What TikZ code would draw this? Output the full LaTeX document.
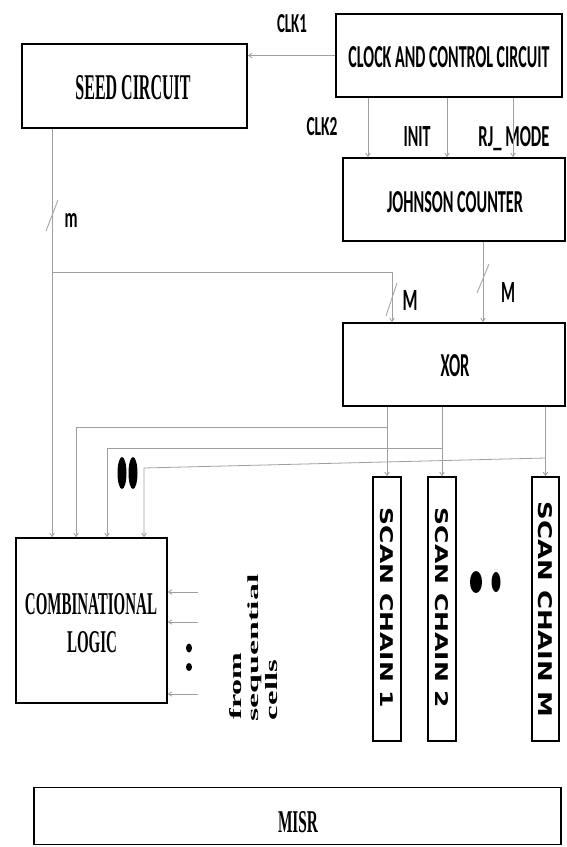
\documentclass[tikz,border=0pt]{standalone}
\usepackage{fontspec}
\usepackage{graphicx}
\setmainfont{Liberation Serif}
\newfontfamily\calfont{Carlito}
\newfontfamily\dvfont{DejaVu Sans}
\usetikzlibrary{arrows.meta}
\newcommand{\rsz}[3]{\resizebox{#1pt}{#2pt}{#3}}
\begin{document}
\begin{tikzpicture}[x=1pt,y=-1pt,
  blk/.style={draw=black, line width=1.5pt, inner sep=0pt},
  conn/.style={draw=gray!75, line width=0.8pt},
  arr/.style={conn, -{Straight Barb[length=3.5pt,width=4.5pt]}},
  lbl/.style={inner sep=0pt, text=black},
  slashln/.style={draw=gray!70, line width=0.9pt}]
\useasboundingbox (0,0) rectangle (567,847);

% blocks
\node[blk, minimum width=226pt, minimum height=83pt] (clock) at (449,55.5) {};
\node[blk, minimum width=225pt, minimum height=84pt] (seed) at (134.5,86) {};
\node[blk, minimum width=222pt, minimum height=83pt] (john) at (454,199.5) {};
\node[blk, minimum width=222pt, minimum height=83pt] (xor) at (454,364.5) {};
\node[blk, minimum width=151pt, minimum height=165pt] (comb) at (91.5,620.5) {};
\node[blk, minimum width=28pt, minimum height=264pt] (ch1) at (387,609) {};
\node[blk, minimum width=28pt, minimum height=264pt] (ch2) at (442,609) {};
\node[blk, minimum width=27pt, minimum height=264pt] (chM) at (545.5,609) {};
\node[blk, minimum width=527pt, minimum height=57pt] (misr) at (297.5,816) {};

% block texts
\node[lbl] (tclock) at (449,57) {\rsz{201}{21}{\calfont\bfseries CLOCK AND CONTROL CIRCUIT}};
\node[lbl] (tseed) at (133,88) {\rsz{115}{24}{\bfseries SEED CIRCUIT}};
\node[lbl] (tjohn) at (455,202) {\rsz{136}{21}{\calfont\bfseries JOHNSON COUNTER}};
\node[lbl] (txor) at (455,366) {\rsz{29}{22}{\calfont\bfseries XOR}};
\node[lbl] (tcomb1) at (91,604.5) {\rsz{132}{21}{\bfseries COMBINATIONAL}};
\node[lbl] (tcomb2) at (92,642.5) {\rsz{50}{21}{\bfseries LOGIC}};
\node[lbl] (tmisr) at (298,822.5) {\rsz{40}{21}{\bfseries MISR}};
\node[lbl, rotate=-90] (tch1) at (387,608) {\rsz{200}{13}{\dvfont\bfseries SCAN CHAIN 1}};
\node[lbl, rotate=-90] (tch2) at (442,608) {\rsz{200}{13}{\dvfont\bfseries SCAN CHAIN 2}};
\node[lbl, rotate=-90] (tchM) at (545.5,609.5) {\rsz{215}{14}{\dvfont\bfseries SCAN CHAIN M}};

% signal labels
\node[lbl] (lclk1) at (292,24) {\rsz{30}{18}{\calfont\bfseries CLK1}};
\node[lbl] (lclk2) at (322,127) {\rsz{31}{18}{\calfont\bfseries CLK2}};
\node[lbl] (linit) at (417,136) {\rsz{27}{20}{\calfont\bfseries INIT}};
\node[lbl, anchor=base] (lrj) at (514,146) {\rsz{71}{20}{\calfont\bfseries RJ\_ MODE}};
\node[lbl] (lm) at (71,220) {\rsz{13}{14}{\calfont\bfseries m}};
\node[lbl] (lM1) at (410,300) {\rsz{15}{20}{\calfont\bfseries M}};
\node[lbl] (lM2) at (508,292) {\rsz{14}{20}{\calfont\bfseries M}};
\node[lbl, rotate=90] (lfrom) at (236,686) {\rsz{67}{12}{\bfseries from}};
\node[lbl, rotate=90] (lseq) at (255,648) {\resizebox*{147pt}{14pt}{\bfseries sequential}};
\node[lbl, rotate=90] (lcells) at (272,690) {\rsz{60}{12}{\bfseries cells}};

% x positions of connectors
\coordinate (xc2) at (368,0);
\coordinate (xin) at (447,0);
\coordinate (xrj) at (513,0);
\coordinate (xs) at (52,0);
\coordinate (xm1) at (392,0);
\coordinate (xm2) at (483,0);
\coordinate (t1) at (76,0);
\coordinate (t2) at (107,0);
\coordinate (t3) at (144,0);

% clock connections
\draw[arr] (clock.west) -- (seed.east |- clock.west);
\draw[arr] (clock.south -| xc2) -- (john.north -| xc2);
\draw[arr] (clock.south -| xin) -- (john.north -| xin);
\draw[arr] (clock.south -| xrj) -- (john.north -| xrj);

% seed path
\coordinate (br) at (52,272);
\draw[arr] (seed.south -| xs) -- (comb.north -| xs);
\draw[arr] (br) -- (br -| xm1) -- (xor.north -| xm1);
\draw[arr] (john.south -| xm2) -- (xor.north -| xm2);

% bus slashes
\draw[slashln] (58,200) -- (46,231);
\draw[slashln] (397,283) -- (386,316);
\draw[slashln] (489,264) -- (477,293);

% xor outputs
\draw[arr] (xor.south -| ch1.north) -- (ch1.north);
\draw[arr] (xor.south -| ch2.north) -- (ch2.north);
\draw[arr] (xor.south -| chM.north) -- (chM.north);

\coordinate (b1) at (387,427);
\coordinate (b2) at (442,448);
\coordinate (b3) at (545.5,458);
\coordinate (k3) at (144,468);
\draw[arr] (b1) -- (b1 -| t1) -- (comb.north -| t1);
\draw[arr] (b2) -- (b2 -| t2) -- (comb.north -| t2);
\draw[arr] (b3) -- (k3) -- (comb.north -| k3);

% inputs from sequential cells
\coordinate (s1) at (198,592);
\coordinate (s2) at (198,622);
\coordinate (s3) at (198,694);
\draw[arr] (s1) -- (comb.east |- s1);
\draw[arr] (s2) -- (comb.east |- s2);
\draw[arr] (s3) -- (comb.east |- s3);

% dots
\fill (122,473) ellipse [x radius=4.5pt, y radius=16pt];
\fill (133,473) ellipse [x radius=4.5pt, y radius=16pt];
\fill (476,582) ellipse [x radius=6pt, y radius=11pt];
\fill (496,582) ellipse [x radius=4.5pt, y radius=10pt];
\fill (189,648) ellipse [x radius=3pt, y radius=4.5pt];
\fill (189,667) ellipse [x radius=3pt, y radius=4pt];
\end{tikzpicture}
\end{document}
